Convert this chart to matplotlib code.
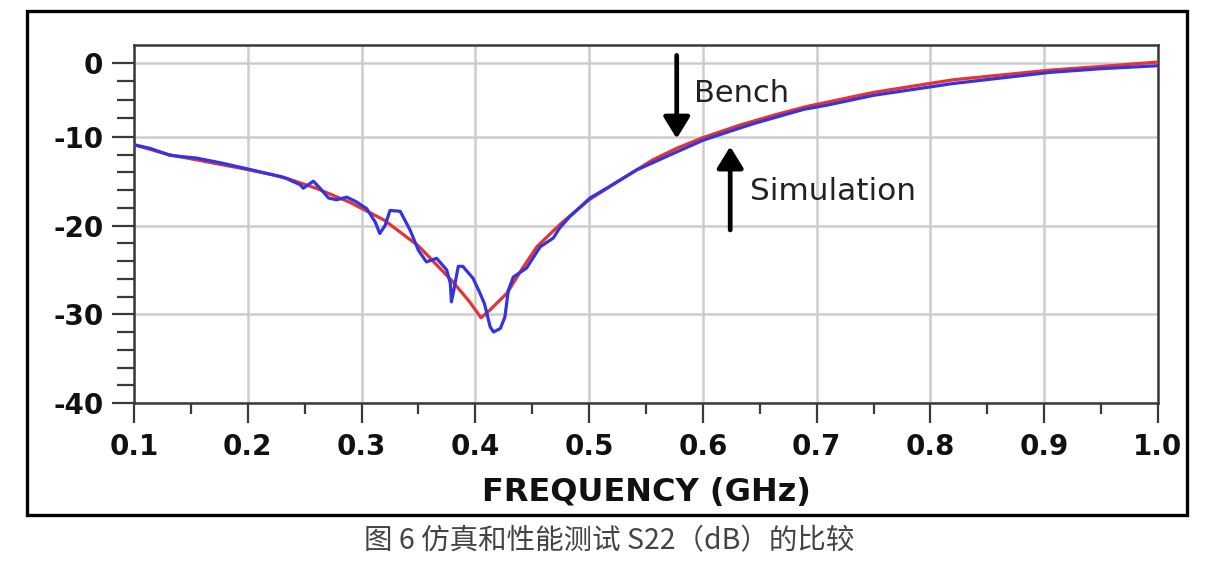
import numpy as np
import matplotlib
matplotlib.use("Agg")
import matplotlib.pyplot as plt
from matplotlib.patches import Rectangle
from matplotlib.ticker import FixedLocator

# ---------------- data ----------------
freq_bench = [0.100, 0.130, 0.155, 0.200, 0.230, 0.260, 0.290, 0.320, 0.350, 0.380,
              0.395, 0.405, 0.413, 0.428, 0.440, 0.454, 0.475, 0.500, 0.527, 0.556,
              0.577, 0.600, 0.633, 0.662, 0.690, 0.710, 0.750, 0.820, 0.905, 0.950, 1.000]
s22_bench = [-10.9, -12.0, -12.6, -13.7, -14.5, -15.8, -17.4, -19.4, -22.3, -26.3,
             -28.6, -30.4, -29.5, -27.6, -25.1, -22.4, -19.8, -17.1, -14.9, -12.6,
             -11.3, -10.1, -8.4, -7.1, -5.95, -5.3, -4.0, -2.3, -1.0, -0.5, 0.1]

freq_sim = [0.100, 0.114, 0.132, 0.155, 0.1785, 0.199, 0.2225, 0.234, 0.246, 0.2488,
            0.2576, 0.2635, 0.271, 0.278, 0.287, 0.295, 0.3045, 0.312, 0.316, 0.3207,
            0.325, 0.334, 0.3426, 0.350, 0.357, 0.366, 0.3748, 0.378, 0.379, 0.3806,
            0.385, 0.389, 0.398, 0.404, 0.408, 0.413, 0.416, 0.422, 0.426, 0.429,
            0.4334, 0.445, 0.457, 0.4686, 0.474, 0.483, 0.5008, 0.518, 0.5417, 0.571,
            0.600, 0.621, 0.645, 0.6885, 0.710, 0.750, 0.820, 0.905, 0.950, 1.000]
s22_sim = [-10.9, -11.3, -12.1, -12.4, -13.0, -13.6, -14.3, -14.7, -15.4, -15.8,
           -15.0, -15.8, -16.9, -17.1, -16.8, -17.3, -18.1, -19.6, -20.9, -20.0,
           -18.3, -18.4, -20.5, -22.8, -24.1, -23.7, -25.0, -26.5, -28.6, -27.6,
           -24.6, -24.6, -25.95, -27.6, -28.8, -31.4, -32.0, -31.6, -30.3, -27.3,
           -25.8, -24.8, -22.4, -21.4, -20.3, -19.0, -16.9, -15.6, -13.75, -12.05,
           -10.4, -9.4, -8.2, -6.3, -5.7, -4.4, -2.8, -1.3, -0.8, -0.4]

x_ticks = [0.1, 0.2, 0.3, 0.4, 0.5, 0.6, 0.7, 0.8, 0.9, 1.0]
x_tick_labels = ["0.1", "0.2", "0.3", "0.4", "0.5", "0.6", "0.7", "0.8", "0.9", "1.0"]
y_ticks = [0, -10, -20, -30, -40]
y_tick_labels = ["0", "-10", "-20", "-30", "-40"]
y_minor = [-2.5, -5, -7.5, -12, -14, -16, -18, -22, -24, -26, -28, -32, -34, -36, -38]
x_minor = [0.15, 0.25, 0.35, 0.45, 0.55, 0.65, 0.75, 0.85, 0.95]

x_label = "FREQUENCY (GHz)"
caption = "图 6 仿真和性能测试 S22（dB）的比较"
bench_label = "Bench"
sim_label = "Simulation"

# ---------------- figure ----------------
W, H = 1219, 568
fig = plt.figure(figsize=(W / 100, H / 100), dpi=100)
fig.patch.set_facecolor("white")

ax = fig.add_axes([134 / W, 1 - 403 / H, (1158 - 134) / W, (403 - 45) / H])

# the reference y axis is compressed above -10 dB
K = 0.834
def fwd(y):
    y = np.asarray(y, dtype=float)
    return np.where(y > -10, -10 + (y + 10) * K, y)
def inv(t):
    t = np.asarray(t, dtype=float)
    return np.where(t > -10, -10 + (t + 10) / K, t)
ax.set_yscale("function", functions=(fwd, inv))

ax.plot(freq_bench, s22_bench, color="#e63232", lw=2.3, zorder=3)
ax.plot(freq_sim, s22_sim, color="#3434e2", lw=2.3, zorder=4)

ax.set_xlim(0.1, 1.0)
ax.set_ylim(-40, 2.4)

ax.set_xticks(x_ticks)
ax.set_xticklabels(x_tick_labels)
ax.xaxis.set_minor_locator(FixedLocator(x_minor))
ax.set_yticks(y_ticks)
ax.set_yticklabels(y_tick_labels)
ax.yaxis.set_minor_locator(FixedLocator(y_minor))
ax.yaxis.set_minor_formatter(plt.NullFormatter())
ax.xaxis.set_minor_formatter(plt.NullFormatter())

spine_c = "#3a3a3a"
for s in ax.spines.values():
    s.set_color(spine_c)
    s.set_linewidth(1.8)

ax.tick_params(axis="both", which="both", direction="out", width=1.6, color=spine_c)
ax.tick_params(axis="both", which="major", labelsize=20, labelcolor="#111111")
ax.tick_params(axis="x", which="major", length=14.5, pad=7)
ax.tick_params(axis="x", which="minor", length=8)
ax.tick_params(axis="y", which="major", length=16, pad=6)
ax.tick_params(axis="y", which="minor", length=12)
for lab in ax.get_xticklabels() + ax.get_yticklabels():
    lab.set_family(["DejaVu Sans"])
    lab.set_fontweight("bold")

ax.grid(True, which="major", color="#cdcdcd", lw=1.8)
ax.set_axisbelow(True)

ax.set_xlabel(x_label, fontsize=23, fontweight="bold", family=["DejaVu Sans"], color="#111111")
ax.xaxis.set_label_coords(0.5, -(492 - 403) / (403 - 45))
ax.xaxis.label.set_va("center")

# arrows and annotations
arrow_kw = dict(arrowstyle="-|>,head_length=0.65,head_width=0.4", lw=3.4, color="black",
                shrinkA=0, shrinkB=0, mutation_scale=20)
ax.annotate("", xy=(0.577, -10.2), xytext=(0.577, 1.0), arrowprops=arrow_kw, zorder=5)
ax.annotate("", xy=(0.624, -11.1), xytext=(0.624, -20.5), arrowprops=arrow_kw, zorder=5)
ax.text(0.5925, -4.1, bench_label, fontsize=22, family=["DejaVu Sans"], color="#222222",
        va="center", ha="left", zorder=6)
ax.text(0.6415, -16.2, sim_label, fontsize=22.5, family=["DejaVu Sans"], color="#222222",
        va="center", ha="left", zorder=6)

# outer frame
fig.patches.append(Rectangle((27 / W, 1 - 515 / H), (1187 - 27) / W, (515 - 11) / H,
                             transform=fig.transFigure, fill=False, lw=2.4,
                             edgecolor="black", zorder=0))

fig.text(609 / W, 1 - 541 / H, caption, fontsize=20.5, color="#444444",
         family=["Noto Sans CJK SC", "DejaVu Sans"], ha="center", va="center")

fig.savefig("out.png", dpi=100, facecolor="white")
